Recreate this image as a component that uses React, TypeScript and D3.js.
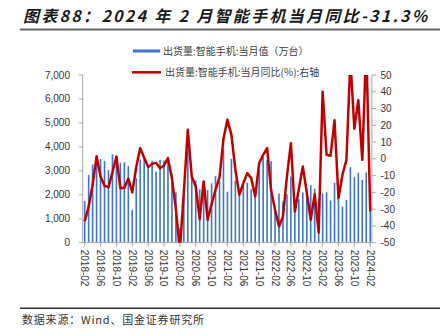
import React from "react";
import * as d3 from "d3";

const months: string[] = (() => {
  const out: string[] = [];
  for (let y = 2018; y <= 2024; y++) {
    for (let m = 1; m <= 12; m++) {
      const s = `${y}-${String(m).padStart(2, "0")}`;
      if (s >= "2018-02" && s <= "2024-02") out.push(s);
    }
  }
  return out;
})();

const shipments: number[] = [
  1740, 2826, 3270, 3550, 3490, 3410, 3030, 3690, 3610, 3340, 3355, 3200,
  1365, 2700, 3460, 3500, 3250, 3420, 2965, 3460, 3430, 3450, 2890, 2100,
  600, 2080, 3870, 2760, 2600, 2230, 2560, 2200, 2480, 2780, 2560, 3900,
  2130, 3500, 2600, 2150, 2470, 2500, 2230, 2200, 3050, 3600, 3450, 3400,
  1450, 2050, 1720, 2020, 2760, 1450, 1820, 2100, 2100, 2400, 2250, 1850,
  2050, 2100, 1765, 2500, 2100, 1500, 1790, 3150, 2750, 2920, 2620, 2930,
  1410,
];

const yoy: number[] = [
  -37.3, -28.5, -15.5, 1.5, -10.5, -16, -17, -8, 1.4, -17.5, -17.3, -11.8,
  -20, -5, 6.4, 0.6, -4.8, -3, -2.4, -5.6, -3.9, 0.4, -11.5, -30,
  -54.7, -20, 17.3, -10.5, -16.5, -36, -13.5, -36.3, -27, -18.5, -11, 12,
  23.4, 14.3, -6.5, -21.4, -14.5, -8.5, -11.5, -22.4, -2.6, 2.4, 6.4, -18.5,
  -30.4, -40.3, -34.3, -10.5, 9.3, -31.4, -18, -4.6, -20, -36.3, -21, -44,
  40, 2.4, 1.9, 23, -23.4, -9.5, -0.6, 59.2, 18, 35, -0.6, 68.1,
  -31.3,
];

const leftTicks: number[] = [0, 1000, 2000, 3000, 4000, 5000, 6000, 7000];
const rightTicks: number[] = [-50, -40, -30, -20, -10, 0, 10, 20, 30, 40, 50];
const xLabels: string[] = months.filter((_, i) => i % 4 === 0);

const title = "图表88：2024 年 2 月智能手机当月同比-31.3%";
const legendBar = "出货量:智能手机:当月值（万台）";
const legendLine = "出货量:智能手机:当月同比(%):右轴";
const source = "数据来源：Wind、国金证券研究所";

export default function App() {
  const left = 82.7;
  const right = 372.2;
  const top = 75;
  const bottom = 242.7;
  const x = d3.scaleBand<string>().domain(months).range([left, right]).padding(0);
  const yL = d3.scaleLinear().domain([0, 7000]).range([bottom, top]);
  const yR = d3.scaleLinear().domain([-50, 50]).range([bottom, top]);
  const cx = (m: string) => (x(m) as number) + x.bandwidth() / 2;
  const lineGen = d3
    .line<number>()
    .x((_, i) => cx(months[i]))
    .y((d) => yR(d));
  const numFont = "'Liberation Sans', Arial, sans-serif";
  const cjk = "'Noto Sans CJK SC', sans-serif";
  const fmt = d3.format(",");
  const axisColor = "#A6A6A6";
  const axisRight = 371.9;

  return (
    <svg
      width={440}
      height={336}
      style={{ position: "absolute", left: 0, top: 0, background: "#fff" }}
    >
      <defs>
        <clipPath id="plotclip">
          <rect x={left} y={top} width={right - left + 2} height={bottom - top} />
        </clipPath>
      </defs>
      <text
        x={23}
        y={22}
        fontFamily={cjk}
        fontSize={16}
        fontWeight="bold"
        fontStyle="italic"
        letterSpacing={2.3}
        fill="#1a1a1a"
      >
        {title}
      </text>
      <line x1={20} x2={440} y1={29.5} y2={29.5} stroke="#666" strokeWidth={2} />

      {/* legend */}
      <rect x={133} y={49.5} width={27} height={3} fill="#3A74CC" />
      <text x={163} y={54.5} fontFamily={cjk} fontSize={10} fill="#404040">
        {legendBar}
      </text>
      <line x1={132} x2={161} y1={72.3} y2={72.3} stroke="#C00000" strokeWidth={2.5} />
      <text x={165} y={76} fontFamily={cjk} fontSize={10} fill="#404040">
        {legendLine}
      </text>

      {/* bars */}
      {shipments.map((v, i) => (
        <rect
          key={months[i]}
          x={cx(months[i]) - 0.8}
          y={yL(v)}
          width={1.6}
          height={bottom - yL(v)}
          fill="#3A74CC"
        />
      ))}

      {/* axes */}
      <line x1={left} x2={left} y1={top} y2={bottom} stroke={axisColor} />
      <line x1={axisRight} x2={axisRight} y1={top} y2={bottom} stroke={axisColor} />
      <line x1={left} x2={axisRight} y1={bottom} y2={bottom} stroke={axisColor} />
      {leftTicks.map((t) => (
        <g key={"l" + t}>
          <line x1={left - 4} x2={left} y1={yL(t)} y2={yL(t)} stroke={axisColor} />
          <text
            x={70}
            y={yL(t)}
            dy="0.35em"
            textAnchor="end"
            fontFamily={numFont}
            fontSize={10}
            fill="#333"
          >
            {fmt(t)}
          </text>
        </g>
      ))}
      {rightTicks.map((t) => (
        <g key={"r" + t}>
          <line x1={axisRight} x2={axisRight + 4} y1={yR(t)} y2={yR(t)} stroke={axisColor} />
          <text
            x={380.5}
            y={yR(t)}
            dy="0.35em"
            textAnchor="start"
            fontFamily={numFont}
            fontSize={10}
            fill="#333"
          >
            {t}
          </text>
        </g>
      ))}
      {xLabels.map((m) => (
        <g key={"x" + m}>
          <line x1={cx(m)} x2={cx(m)} y1={bottom} y2={bottom + 4} stroke={axisColor} />
          <text
            transform={`translate(${cx(m)},${bottom + 7}) rotate(90)`}
            dy="0.35em"
            textAnchor="start"
            fontFamily={numFont}
            fontSize={10}
            fill="#333"
          >
            {m}
          </text>
        </g>
      ))}

      {/* line */}
      <path
        d={lineGen(yoy) || ""}
        fill="none"
        stroke="#C00000"
        strokeWidth={2.5}
        strokeLinejoin="round"
        clipPath="url(#plotclip)"
      />

      <line x1={20} x2={440} y1={308.3} y2={308.3} stroke="#333" strokeWidth={1.5} />
      <text x={22} y={324} fontFamily={cjk} fontSize={11} letterSpacing={0.8} fill="#333">
        {source}
      </text>
    </svg>
  );
}
